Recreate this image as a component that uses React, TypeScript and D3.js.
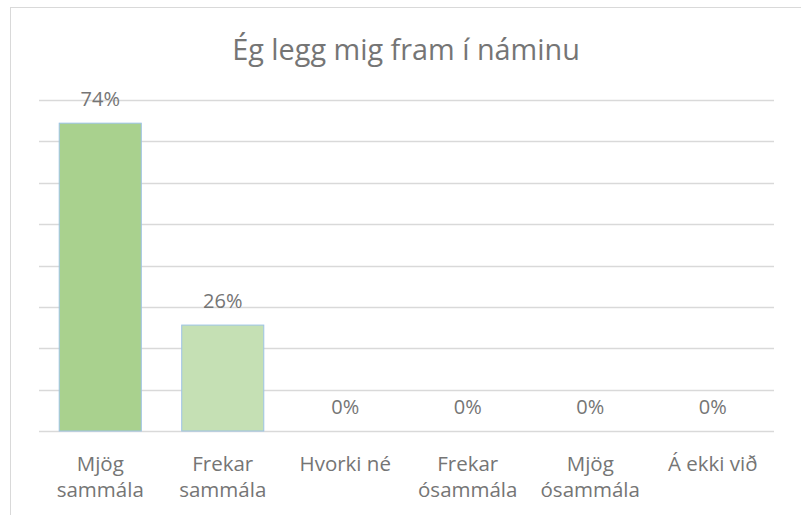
import React from "react";
import * as d3 from "d3";

const title = "Ég legg mig fram í náminu";
const categories = ["Mjög sammála", "Frekar sammála", "Hvorki né", "Frekar ósammála", "Mjög ósammála", "Á ekki við"];
const categoryLines = [["Mjög", "sammála"], ["Frekar", "sammála"], ["Hvorki né"], ["Frekar", "ósammála"], ["Mjög", "ósammála"], ["Á ekki við"]];
const values = [0.744, 0.256, 0, 0, 0, 0];
const barColors = ["#a9d18e", "#c5e0b4", "#a9d18e", "#a9d18e", "#a9d18e", "#a9d18e"];
const yTicks = [0, 0.1, 0.2, 0.3, 0.4, 0.5, 0.6, 0.7, 0.8];

const W = 801;
const H = 515;
const FONT = "'Open Sans', 'Noto Sans', sans-serif";
const TEXT = "#757575";

export default function App() {
  const x = d3.scaleBand<string>().domain(categories).range([39, 774]).paddingInner(0.33).paddingOuter(0.165);
  const y = d3.scaleLinear().domain([0, 0.8]).range([431, 100]);
  const fmt = d3.format(".0%");
  return (
    <svg width={W} height={H} style={{ position: "absolute", left: 0, top: 0, background: "#fff" }} fontFamily={FONT}>
      <rect x={10.5} y={7.5} width={W} height={H} fill="#fff" stroke="#d9d9d9" strokeWidth={1} />
      <text x={406} y={60} textAnchor="middle" fontSize={28.8} fill={TEXT}>{title}</text>
      {yTicks.map((t) => (
        <line key={t} x1={39} x2={774} y1={Math.round(y(t)) + 0.5} y2={Math.round(y(t)) + 0.5} stroke="#d9d9d9" strokeWidth={1.5} />
      ))}
      {categories.map((c, i) => {
        const bx = x(c)!;
        const bw = x.bandwidth();
        const top = y(values[i]);
        return (
          <g key={c}>
            {values[i] > 0 && (
              <rect x={bx} y={top} width={bw} height={y(0) - top} fill={barColors[i]} stroke="#9dc3e6" strokeWidth={1} />
            )}
            <text x={bx + bw / 2} y={top - 17} textAnchor="middle" fontSize={20} fill={TEXT}>{fmt(values[i])}</text>
            {categoryLines[i].map((ln, j) => (
              <text key={j} x={bx + bw / 2} y={470.5 + j * 26.5} textAnchor="middle" fontSize={20.5} fill={TEXT}>{ln}</text>
            ))}
          </g>
        );
      })}
    </svg>
  );
}
